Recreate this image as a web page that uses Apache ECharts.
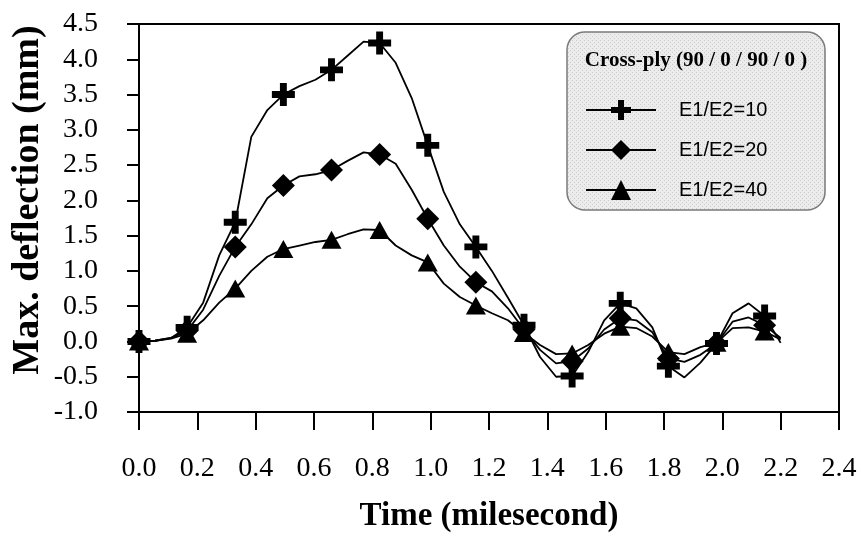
<!DOCTYPE html>
<html><head><meta charset="utf-8">
<script src="https://cdn.jsdelivr.net/npm/echarts@6/dist/echarts.min.js"></script>
<style>html,body{margin:0;padding:0;background:#fff}#c{width:861px;height:538px}</style>
</head><body><div id="c"></div>
<script>
// ---- data ----
const time = [0, 0.055, 0.11, 0.165, 0.22, 0.275, 0.33, 0.385, 0.44, 0.495, 0.55, 0.605, 0.66, 0.715, 0.77, 0.825, 0.88, 0.935, 0.99, 1.045, 1.1, 1.155, 1.21, 1.265, 1.32, 1.375, 1.43, 1.485, 1.54, 1.595, 1.65, 1.705, 1.76, 1.815, 1.87, 1.925, 1.98, 2.035, 2.09, 2.145, 2.2];
const e10 = [0, 0.01, 0.05, 0.2, 0.55, 1.22, 1.69, 2.9, 3.28, 3.5, 3.62, 3.71, 3.85, 4.05, 4.25, 4.23, 3.95, 3.45, 2.78, 2.12, 1.66, 1.34, 1.0, 0.62, 0.23, -0.22, -0.5, -0.49, -0.15, 0.3, 0.54, 0.47, 0.2, -0.35, -0.51, -0.3, -0.03, 0.4, 0.54, 0.36, -0.02];
const e20 = [0, 0.01, 0.05, 0.15, 0.45, 0.93, 1.34, 1.66, 2.03, 2.21, 2.34, 2.37, 2.43, 2.56, 2.68, 2.65, 2.52, 2.15, 1.74, 1.36, 1.06, 0.84, 0.71, 0.47, 0.17, -0.12, -0.31, -0.28, -0.1, 0.17, 0.33, 0.3, 0.13, -0.24, -0.29, -0.19, -0.03, 0.28, 0.34, 0.23, 0.05];
const e40 = [0, 0.01, 0.04, 0.11, 0.3, 0.55, 0.75, 1.0, 1.2, 1.31, 1.36, 1.41, 1.44, 1.52, 1.59, 1.58, 1.36, 1.22, 1.12, 0.82, 0.63, 0.51, 0.4, 0.3, 0.12, -0.05, -0.18, -0.17, -0.05, 0.11, 0.21, 0.19, 0.07, -0.15, -0.18, -0.08, -0.02, 0.19, 0.2, 0.14, 0.03];
const seriesNames = ['E1/E2=10', 'E1/E2=20', 'E1/E2=40'];
const markerEvery = 3; // a marker on every third sample
const xMin = 0, xMax = 2.4, xStep = 0.2;
const yMin = -1.0, yMax = 4.5, yStep = 0.5;
const legendTitle = 'Cross-ply (90 / 0 / 90 / 0 )';
const xTitle = 'Time (milesecond)';
const yTitle = 'Max. deflection (mm)';

// ---- styling ----
const SERIF = '"Liberation Serif", "Times New Roman", serif';
const SANS = '"Liberation Sans", Arial, sans-serif';
const PLUS = 'path://M7,0H13V7H20V13H13V20H7V13H0V7H7Z';
const symbols = [PLUS, 'diamond', 'triangle'];
const symbolSizes = [23, 23, [20, 18]];

const pc = document.createElement('canvas');
pc.width = 4; pc.height = 4;
const pctx = pc.getContext('2d');
pctx.fillStyle = '#ececec'; pctx.fillRect(0, 0, 4, 4);
pctx.fillStyle = '#cbcbcb'; pctx.fillRect(0, 0, 1, 1); pctx.fillRect(2, 2, 1, 1);

function build(values, k) {
  return values.map((v, i) => ({
    value: [time[i], v],
    symbol: i % markerEvery === 0 ? symbols[k] : 'none'
  }));
}

const chart = echarts.init(document.getElementById('c'), null, {renderer: 'canvas'});
chart.setOption({
  animation: false,
  backgroundColor: '#fff',
  grid: {left: 139, right: 22, top: 24, bottom: 124, show: true, borderColor: '#000', borderWidth: 2, backgroundColor: 'transparent'},
  xAxis: {
    type: 'value', min: xMin, max: xMax, interval: xStep,
    name: xTitle, nameLocation: 'middle', nameGap: 88,
    nameTextStyle: {fontFamily: SERIF, fontWeight: 'bold', fontSize: 33, color: '#000'},
    axisLine: {onZero: false, lineStyle: {color: '#000', width: 2}},
    axisTick: {inside: false, length: 18, lineStyle: {color: '#000', width: 2}},
    axisLabel: {margin: 43, fontFamily: SERIF, fontSize: 28, color: '#000', formatter: v => v.toFixed(1)},
    splitLine: {show: false}
  },
  yAxis: {
    type: 'value', min: yMin, max: yMax, interval: yStep,
    axisLine: {onZero: false, lineStyle: {color: '#000', width: 2}},
    axisTick: {inside: false, length: 12, lineStyle: {color: '#000', width: 2}},
    axisLabel: {margin: 41, fontFamily: SERIF, fontSize: 28, color: '#000', formatter: v => v.toFixed(1)},
    splitLine: {show: false}
  },
  legend: {
    orient: 'vertical', left: 585, top: 100, padding: 0, z: 10,
    itemWidth: 70, itemHeight: 25, itemGap: 20,
    textStyle: {fontFamily: SANS, fontSize: 20, color: '#000', padding: [0, 0, 0, 18]},
    data: seriesNames
  },
  graphic: [
    {type: 'rect', z: 1, shape: {x: 567, y: 32, width: 258, height: 178, r: 18},
     style: {fill: {image: pc, repeat: 'repeat'}, stroke: '#7a7a7a', lineWidth: 1.5}},
    {type: 'text', z: 10, x: 696, y: 61,
     style: {text: legendTitle, font: 'bold 21px ' + SERIF, fill: '#000', align: 'center', verticalAlign: 'middle'}},
    {type: 'text', z: 10, x: 28, y: 200, rotation: Math.PI / 2,
     style: {text: yTitle, font: 'bold 38px ' + SERIF, fill: '#000', align: 'center', verticalAlign: 'middle'}}
  ],
  series: [e10, e20, e40].map((vals, k) => ({
    name: seriesNames[k], type: 'line', data: build(vals, k),
    symbol: symbols[k], symbolSize: symbolSizes[k], showAllSymbol: true,
    lineStyle: {color: '#000', width: 1.8},
    itemStyle: {color: '#000', borderWidth: 0},
    z: 3 + k
  }))
});
</script>
</body></html>
